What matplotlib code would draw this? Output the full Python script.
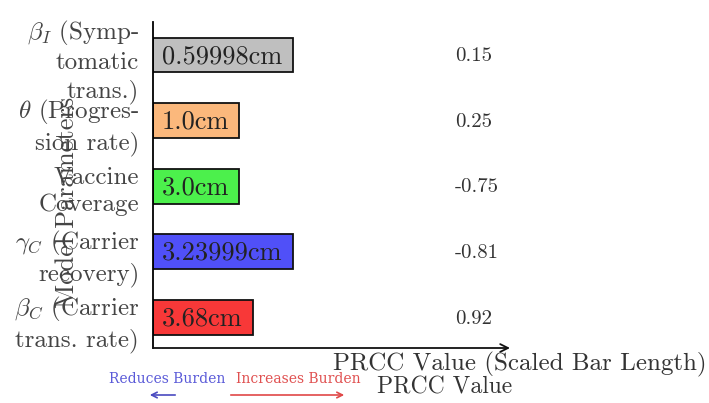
import matplotlib
matplotlib.use('Agg')
import matplotlib.pyplot as plt
from matplotlib.patches import FancyArrowPatch

plt.rcParams['font.family'] = ['cmr10', 'DejaVu Serif']
plt.rcParams['mathtext.fontset'] = 'cm'
plt.rcParams['axes.unicode_minus'] = False

# Parameters (top to bottom) and what the chart shows
params = ['$\\beta_I$ (Symp-\ntomatic\ntrans.)',
          '$\\theta$ (Progres-\nsion rate)',
          'Vaccine\nCoverage',
          '$\\gamma_C$ (Carrier\nrecovery)',
          '$\\beta_C$ (Carrier\ntrans. rate)']
bar_lengths = [3.92, 2.41, 2.41, 3.92, 2.80]
bar_labels = ['0.59998cm', '1.0cm', '3.0cm', '3.23999cm', '3.68cm']
prcc_values = ['0.15', '0.25', '-0.75', '-0.81', '0.92']
bar_colors = ['#bfbfbf', '#fbb87c', '#4cf04c', '#5050f8', '#f83838']

fig = plt.figure(figsize=(7.09, 4.03), dpi=100)
ax = fig.add_axes([153 / 709, 55 / 403, 357 / 709, 326 / 403])

ypos = list(range(len(params)))
ax.barh(ypos, bar_lengths, height=0.53, color=bar_colors,
        edgecolor='#111111', linewidth=1.3)

for y, lab, val in zip(ypos, bar_labels, prcc_values):
    ax.text(0.25, y + 0.02, lab, fontsize=19, va='center', ha='left', color='#222222')
    ax.text(8.45, y + 0.02, val, fontsize=15, va='center', ha='left', color='#333333')

ax.set_xlim(0, 10)
ax.set_ylim(4.466, -0.503)
ax.set_yticks(ypos)
ax.set_yticklabels(params, fontsize=18, color='#444444')
for lbl in ax.get_yticklabels():
    lbl.set_linespacing(1.3)
ax.tick_params(axis='y', length=0, pad=10)
ax.set_xticks([])
for side in ['top', 'right', 'bottom']:
    ax.spines[side].set_visible(False)
ax.spines['left'].set_linewidth(1.3)

# x axis as an arrow
ax.annotate('', xy=(1.0, 0), xycoords='axes fraction', xytext=(0, 0),
            textcoords='axes fraction',
            arrowprops=dict(arrowstyle='->', lw=1.3, color='#111111',
                            mutation_scale=14, shrinkA=0, shrinkB=0))

fig.text(67 / 709, 1 - 202 / 403, 'Model Parameters', rotation=90, fontsize=19,
         ha='center', va='center', color='#444444')
fig.text(333 / 709, 1 - 370 / 403, 'PRCC Value (Scaled Bar Length)', fontsize=18,
         ha='left', va='baseline', color='#333333')
fig.text(377 / 709, 1 - 393 / 403, 'PRCC Value', fontsize=17,
         ha='left', va='baseline', color='#333333')

# direction legend
fig.text(167 / 709, 1 - 379 / 403, 'Reduces Burden', fontsize=10, family='DejaVu Serif',
         ha='center', va='center', color='#5a5ad8')
fig.text(298 / 709, 1 - 379 / 403, 'Increases Burden', fontsize=10, family='DejaVu Serif',
         ha='center', va='center', color='#e05050')
fig.add_artist(FancyArrowPatch(
    (178 / 709, 8 / 403), (147 / 709, 8 / 403), transform=fig.transFigure,
    arrowstyle='->', mutation_scale=10, lw=1.2, color='#4a4ac0'))
fig.add_artist(FancyArrowPatch(
    (228 / 709, 8 / 403), (347 / 709, 8 / 403), transform=fig.transFigure,
    arrowstyle='->', mutation_scale=10, lw=1.2, color='#e04848'))

fig.savefig('out.png', dpi=100)
